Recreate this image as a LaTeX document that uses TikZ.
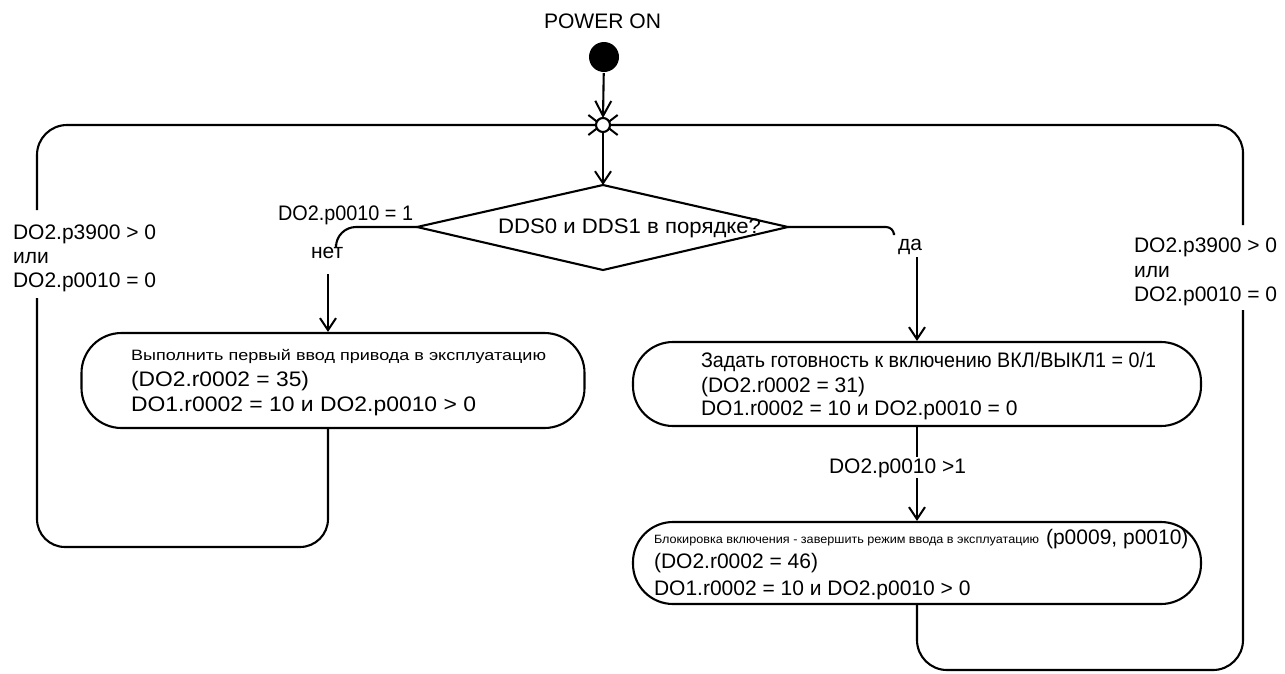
\documentclass[tikz,border=0pt]{standalone}
\usepackage{fontspec}
\setmainfont{Liberation Sans}
\usetikzlibrary{arrows.meta}
\newcommand{\tw}[2]{\resizebox{#1pt}{\height}{#2}}
\begin{document}
\begin{tikzpicture}[x=1pt,y=-1pt, line width=2.1pt,
  arr/.style={-{Straight Barb[length=12pt,width=16pt,line width=2pt]}},
  jarr/.style={-{Straight Barb[length=13pt,width=20pt,line width=2pt]}},
  sarr/.style={-{Straight Barb[length=15pt,width=16pt,line width=2pt]}},
  txt/.style={font=\fontsize{21}{24}\selectfont, inner sep=0pt, anchor=base west},
  smalltxt/.style={font=\fontsize{15}{17}\selectfont, inner sep=0pt, anchor=base west},
  tinytxt/.style={font=\fontsize{12}{14}\selectfont, inner sep=0pt, anchor=base west},
  statebox/.style={draw, rounded corners=40pt, inner sep=0pt}]
\useasboundingbox (0,0) rectangle (1285,673);

% state boxes
\node[statebox, minimum width=503pt, minimum height=95pt] (lbox) at (333,380.5) {};
\node[statebox, minimum width=568pt, minimum height=84pt] (b1) at (917,384) {};
\node[statebox, minimum width=568pt, minimum height=82pt] (b2) at (917,563) {};

% box texts
\node[smalltxt] (l1) at (130,360) {\tw{415}{Выполнить первый ввод привода в эксплуатацию}};
\node[txt] (l2) at (130,386) {\tw{178}{(DO2.r0002 = 35)}};
\node[txt] (l3) at (130,411) {\tw{345}{DO1.r0002 = 10 и DO2.p0010 > 0}};

\node[txt] (r1) at (700,367) {\tw{455}{Задать готовность к включению ВКЛ/ВЫКЛ1 = 0/1}};
\node[txt] (r2) at (700,392) {(DO2.r0002 = 31)};
\node[txt] (r3) at (700,415) {DO1.r0002 = 10 и DO2.p0010 = 0};

\node[tinytxt] (s1) at (653,543) {\tw{385}{Блокировка включения - завершить режим ввода в эксплуатацию}};
\node[txt] (s1b) at (1045,544) {(p0009, p0010)};
\node[txt] (s2) at (653,568) {(DO2.r0002 = 46)};
\node[txt] (s3) at (653,595) {DO1.r0002 = 10 и DO2.p0010 > 0};

% diamond
\coordinate (dl) at (417,227);
\coordinate (dt) at (603,185);
\coordinate (dr) at (788,227);
\coordinate (db) at (603,270);
\draw (dl) -- (dt) -- (dr) -- (db) -- cycle;
\node[txt] (q) at (497,233) {\tw{263}{DDS0 и DDS1 в порядке?}};
\node[txt] (c0) at (277,220) {\tw{135}{DO2.p0010 = 1}};

% start
\node[txt] (pw) at (543,28) {\tw{117}{POWER ON}};
\node[circle, fill, inner sep=0pt, minimum size=30pt] (st) at (604,57) {};
\coordinate (J) at (603,125);
\draw[sarr] (st) -- ([yshift=7pt]J);
\draw[arr] (J) -- (dt);
\draw[jarr, rounded corners=30pt] (37,210) |- (J);
\draw[jarr, rounded corners=28pt] (1243,225) |- (J);
\node[circle, draw, fill=white, inner sep=0pt, minimum size=14pt] (j) at (J) {};

% no branch
\node[txt] (no) at (310,258) {нет};
\draw[rounded corners=20pt] (dl) -- (336,227) -- (336,244);
\coordinate (nb) at (328,274);
\draw[arr] (nb) -- (nb |- lbox.north);

% yes branch
\node[txt] (yes) at (897,250) {да};
\draw[rounded corners=8pt] (dr) -- (894,227) -- (894,233);
\coordinate (yb) at (917,257);
\draw[arr] (yb) -- (yb |- b1.north);

% b1 -> b2
\node[txt] (c1) at (828,473) {\tw{137}{DO2.p0010 >1}};
\draw (b1.south) -- (b1.south |- c1.north);
\draw[arr] (b1.south |- c1.south) -- (b2.north);

% left loop
\draw[rounded corners=28pt] (nb |- lbox.south) -- (328,547) -- (37,547) -- (37,298);
\node[txt] (ll1) at (12,239) {DO2.p3900 > 0};
\node[txt] (ll2) at (12,263) {или};
\node[txt] (ll3) at (12,287) {DO2.p0010 = 0};

% right loop
\draw[rounded corners=30pt] (b2.south) -- (917,670) -- (1243,670) -- (1243,310);
\node[txt] (rl1) at (1133,252) {DO2.p3900 > 0};
\node[txt] (rl2) at (1133,277) {или};
\node[txt] (rl3) at (1133,301) {DO2.p0010 = 0};
\end{tikzpicture}
\end{document}
